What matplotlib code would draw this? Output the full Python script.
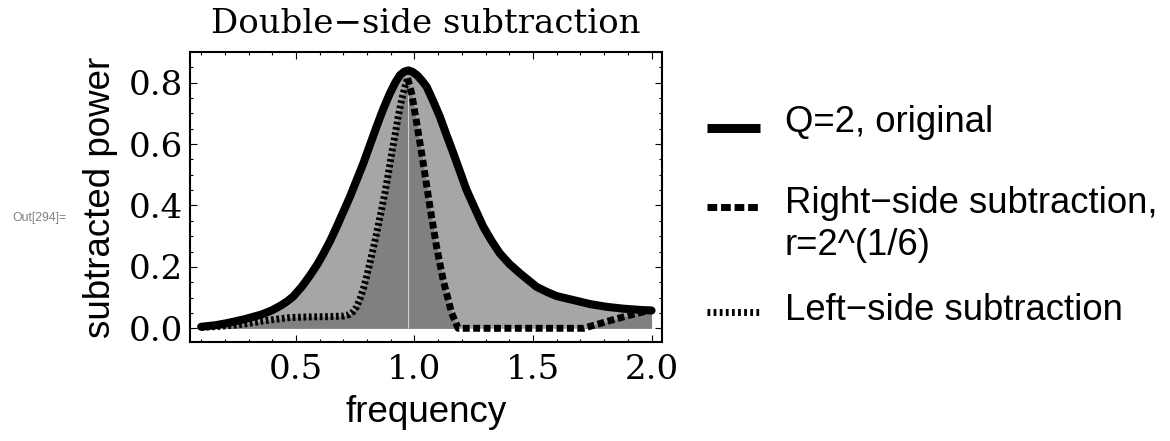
import matplotlib
matplotlib.use("Agg")
import matplotlib.pyplot as plt
from matplotlib.lines import Line2D
from matplotlib.ticker import MultipleLocator, FormatStrFormatter

# values
f_orig = [0.10, 0.16, 0.21, 0.28, 0.355, 0.40, 0.44, 0.465, 0.489, 0.525, 0.559, 0.59, 0.615, 0.645,
          0.672, 0.70, 0.728, 0.756, 0.784, 0.812, 0.84, 0.868, 0.896, 0.92, 0.939, 0.957,
          0.974, 0.99, 1.01, 1.03, 1.051, 1.079, 1.107, 1.135, 1.164, 1.192, 1.22, 1.255,
          1.29, 1.325, 1.36, 1.40, 1.445, 1.48, 1.515, 1.56, 1.60, 1.67, 1.74, 1.81, 1.88,
          1.95, 2.00]
p_orig = [0.005, 0.010, 0.017, 0.029, 0.045, 0.059, 0.076, 0.089, 0.104, 0.136, 0.172, 0.208, 0.242, 0.286,
          0.331, 0.380, 0.429, 0.483, 0.537, 0.597, 0.657, 0.714, 0.765, 0.802, 0.825, 0.836,
          0.840, 0.836, 0.825, 0.808, 0.787, 0.740, 0.689, 0.630, 0.570, 0.510, 0.450, 0.390,
          0.331, 0.285, 0.244, 0.210, 0.179, 0.157, 0.135, 0.118, 0.105, 0.092, 0.079, 0.070, 0.064,
          0.060, 0.058]

f_left = [0.10, 0.17, 0.24, 0.30, 0.355, 0.42, 0.475, 0.55, 0.64, 0.70, 0.725, 0.742, 0.756,
          0.77, 0.784, 0.798, 0.812, 0.826, 0.84, 0.858, 0.875, 0.89, 0.904, 0.918, 0.931,
          0.946, 0.96, 0.971]
p_left = [0.003, 0.006, 0.010, 0.016, 0.023, 0.030, 0.035, 0.037, 0.038, 0.040, 0.045, 0.055, 0.070,
          0.095, 0.128, 0.168, 0.213, 0.260, 0.309, 0.375, 0.440, 0.505, 0.570, 0.630, 0.689,
          0.745, 0.787, 0.815]

f_right = [0.971, 0.988, 1.009, 1.037, 1.065, 1.093, 1.121, 1.157, 1.184, 1.30, 1.45, 1.60, 1.712,
           1.78, 1.852, 1.92, 2.00]
p_right = [0.815, 0.765, 0.670, 0.537, 0.396, 0.266, 0.157, 0.049, 0.0, 0.0, 0.0, 0.0, 0.0,
           0.015, 0.031, 0.045, 0.060]

labels = ["Q=2, original", "Right\u2212side subtraction,", "r=2^(1/6)", "Left\u2212side subtraction"]

serif = "DejaVu Serif"
sans = "Liberation Sans"

fig = plt.figure(figsize=(11.7, 4.41), dpi=100)
ax = fig.add_axes([0.1624, 0.2245, 0.4034, 0.6576])

# fillings
ax.fill_between(f_orig, 0, p_orig, color="#a6a6a6", lw=0)
ax.fill_between(f_left, 0, p_left, color="#808080", lw=0)
ax.fill_between(f_right, 0, p_right, color="#808080", lw=0)
ax.vlines(f_left[-1], 0, p_left[-1], color="#cfcfcf", lw=0.8)

ax.plot(f_orig, p_orig, color="black", lw=5.8, solid_capstyle="round", solid_joinstyle="round")
ax.plot(f_right, p_right, color="black", lw=5.0, dashes=(1.0, 0.5), dash_capstyle="butt",
        dash_joinstyle="round")
ax.plot(f_left, p_left, color="black", lw=5.0, dashes=(0.4, 0.38), dash_capstyle="butt",
        dash_joinstyle="round")

ax.set_xlim(0.053, 2.044)
ax.set_ylim(-0.0446, 0.90)
ax.xaxis.set_major_locator(MultipleLocator(0.5))
ax.xaxis.set_minor_locator(MultipleLocator(0.1))
ax.yaxis.set_major_locator(MultipleLocator(0.2))
ax.yaxis.set_minor_locator(MultipleLocator(0.05))
ax.set_xticks([0.5, 1.0, 1.5, 2.0])
ax.xaxis.set_major_formatter(FormatStrFormatter("%.1f"))
ax.yaxis.set_major_formatter(FormatStrFormatter("%.1f"))
ax.tick_params(which="both", direction="in", top=True, right=True, width=0.8)
ax.tick_params(which="major", length=5)
ax.tick_params(which="minor", length=2.5)
ax.tick_params(axis="x", pad=9)
ax.tick_params(axis="y", pad=5)
ax.tick_params(labelsize=24.5)
for lab in ax.get_xticklabels() + ax.get_yticklabels():
    lab.set_fontfamily(serif)
for spine in ax.spines.values():
    spine.set_linewidth(1.5)

ax.set_title("Double\u2212side subtraction", fontfamily=serif, fontsize=24.5, pad=14)
ax.set_xlabel("frequency", fontfamily=sans, fontsize=26.5, labelpad=6)
ax.set_ylabel("subtracted power", fontfamily=sans, fontsize=26.5, labelpad=8)

# legend drawn by hand so the two-line entry keeps its sample on the first line
W, H = 1170.0, 441.0
def fx(px):
    return px / W
def fy(py):
    return 1 - py / H

fig.add_artist(Line2D([fx(707), fx(760)], [fy(128), fy(128)], color="black", lw=6.5,
                      solid_capstyle="butt"))
fig.add_artist(Line2D([fx(707), fx(760)], [fy(207), fy(207)], color="black", lw=5.0,
                      dashes=(1.4, 0.55), dash_capstyle="butt"))
fig.add_artist(Line2D([fx(707), fx(760)], [fy(312), fy(312)], color="black", lw=5.0,
                      dashes=(0.4, 0.48), dash_capstyle="butt"))
for lab, base in zip(labels, [132, 213, 255, 319.5]):
    fig.text(fx(785), fy(base), lab, fontfamily=sans, fontsize=26.3, va="baseline")

fig.text(fx(12), fy(221), "Out[294]=", fontfamily=sans, fontsize=8.8, color="#808080", va="baseline")

fig.savefig("out.png", dpi=100)
